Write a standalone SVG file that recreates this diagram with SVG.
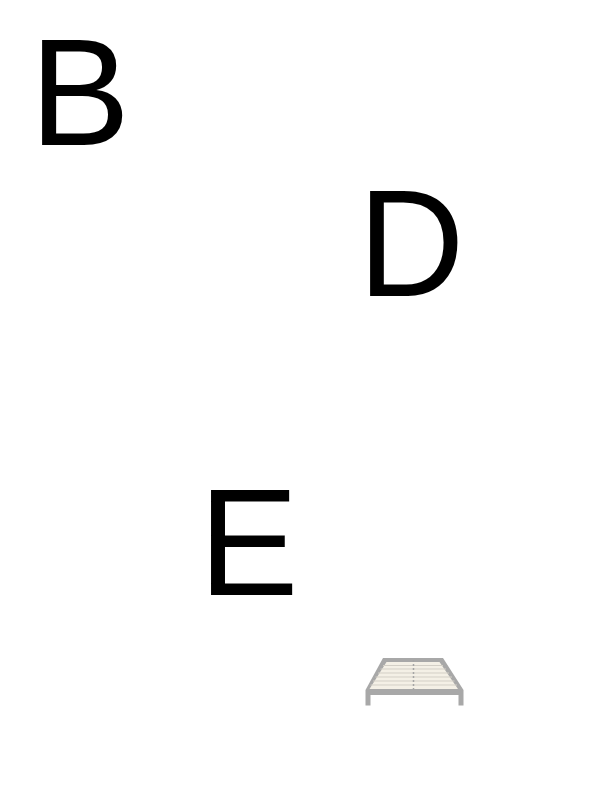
<svg xmlns="http://www.w3.org/2000/svg" width="613" height="792" viewBox="0 0 613 792">
<style>
.l{font-family:'Liberation Sans',Arial,Helvetica,sans-serif;font-size:152px;fill:#000}
.slat{fill:#f4f0e6}
.gap{stroke:#d3cfc6;stroke-width:1;fill:none}
</style>
<rect width="613" height="792" fill="#fff"/>
<g id="letter-b"><text class="l" transform="translate(29.650 145) scale(.99 1)">B</text></g>
<g id="letter-d"><text class="l" transform="translate(357.900 295.500) scale(.97 1)">D</text></g>
<g id="letter-e"><text class="l" transform="translate(198.700 595) scale(.985 1)">E</text></g>
<g id="bed">
<path d="M383 658H443L463.500 690V705.500H458.500V695H370.500V705.500H365.500V690Z" fill="#a8a8a8"/>
<path class="slat" d="M386.500 662H439.500L458 689H369.500Z"/>
<path class="gap" d="M383 665.500H443M380.500 669H446M378 673H449M375.500 677H452M373 681H454.500M370.500 685H457"/>
<path d="M413.500 660V690" stroke="#a5a5a5" stroke-width="1.500" stroke-dasharray="2 2"/>
</g>
</svg>
